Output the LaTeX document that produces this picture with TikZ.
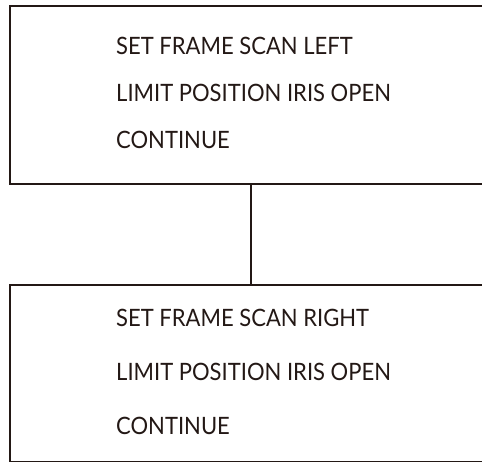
\documentclass[tikz,border=0pt]{standalone}
\usepackage{fontspec}
\setmainfont{Lato}[FakeStretch=0.92]
\usetikzlibrary{positioning}
\definecolor{inkline}{HTML}{231815}

\begin{document}
\begin{tikzpicture}[x=1bp,y=-1bp,
    frame/.style={draw=inkline, line width=2.2bp, minimum width=481bp, anchor=north west, inner sep=0pt},
    steptext/.style={anchor=west, align=left, inner sep=0pt, text=inkline}]
    \useasboundingbox (0,0) rectangle (482,462);
    \clip (0,0) rectangle (482,462);
    % the two frames
    \node[frame, minimum height=178bp] (scanL) at (9,5) {};
    \node[frame, minimum height=177bp] (scanR) at (9,284) {};
    % their texts
    \node[steptext, font=\fontsize{24}{47}\selectfont] (textL) at (116,93)
        {SET FRAME SCAN LEFT\\LIMIT POSITION IRIS OPEN\\CONTINUE};
    \node[steptext, font=\fontsize{24}{54}\selectfont] (textR) at (116,372)
        {SET FRAME SCAN RIGHT\\LIMIT POSITION IRIS OPEN\\CONTINUE};
    \draw[inkline, line width=2.2bp] (scanL.south) -- (scanR.north);
\end{tikzpicture}
\end{document}
